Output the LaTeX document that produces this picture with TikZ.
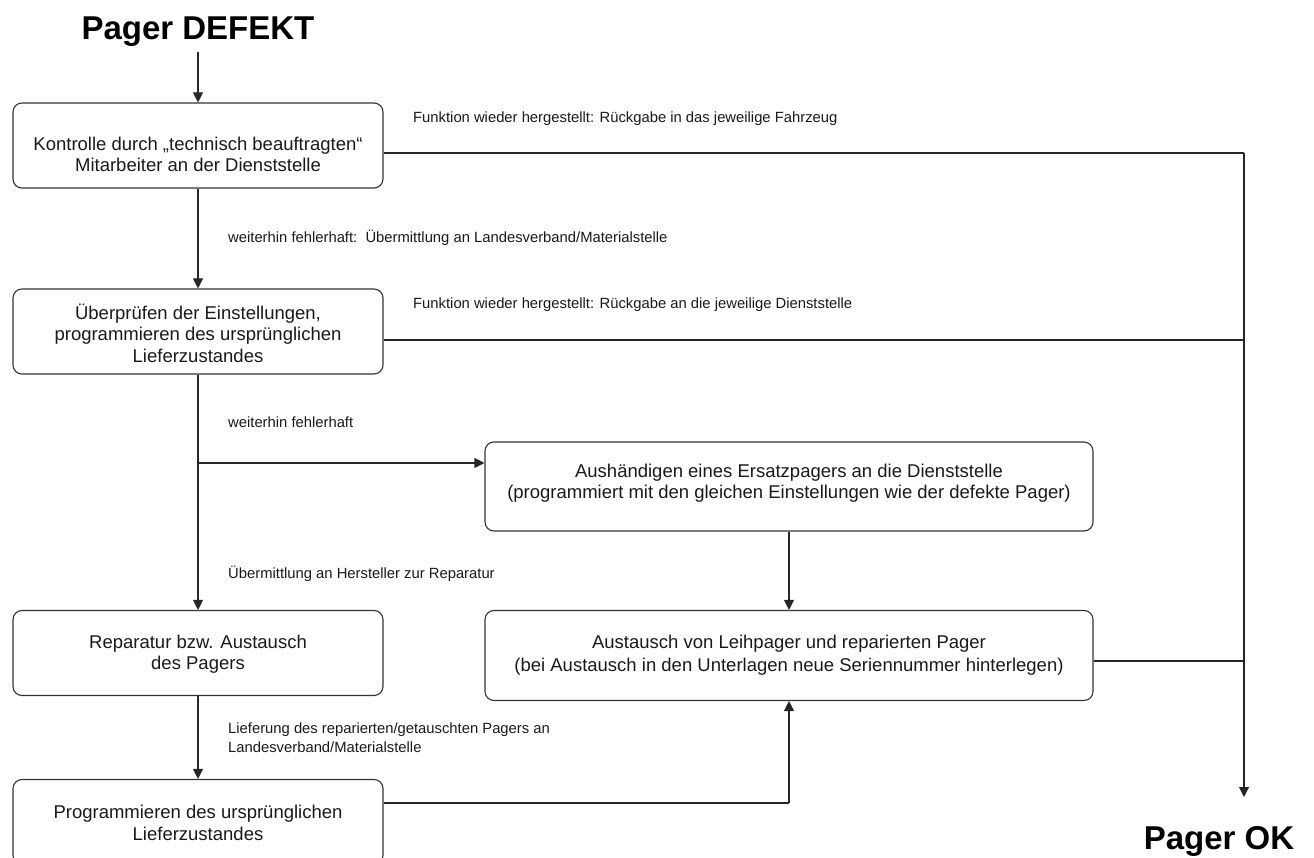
\documentclass[tikz,border=0pt]{standalone}
\usepackage{fontspec}
\setmainfont{Liberation Sans}
\usetikzlibrary{arrows.meta}
\begin{document}
\begin{tikzpicture}[x=1pt,y=-1pt,
  box/.style={draw=black!80, line width=1.1pt, rounded corners=9pt, inner sep=0pt},
  txt/.style={font=\fontsize{18.5}{21.5}\selectfont, align=center, text=black!90, inner sep=0pt},
  lbl/.style={font=\fontsize{14.8}{19}\selectfont, align=left, anchor=west, inner sep=0pt, text=black!90},
  ttl/.style={font=\bfseries\fontsize{33}{36}\selectfont, inner sep=0pt, anchor=base},
  conn/.style={draw=black!85, line width=1.1pt},
  arr/.style={conn, -{Triangle[length=10pt,width=10pt]}}]
\useasboundingbox (0,0) rectangle (1314,858);

\node[ttl] (start) at (198,40) {Pager DEFEKT};
\node[ttl] (ok) at (1219,849) {Pager OK};

\node[box, minimum width=370pt, minimum height=85pt] (b1) at (198,145.5) {};
\node[txt] (t1) at (198,154.5) {Kontrolle durch „technisch beauftragten“\\Mitarbeiter an der Dienststelle};

\node[box, minimum width=370pt, minimum height=85pt] (b2) at (198,331.5) {};
\node[txt] (t2) at (198,333) {Überprüfen der Einstellungen,\\programmieren des ursprünglichen\\Lieferzustandes};

\node[box, minimum width=370pt, minimum height=85pt] (b3) at (198,653) {};
\node[txt] (t3) at (198,654) {Reparatur bzw. Austausch\\des Pagers};

\begin{scope}
\clip (0,0) rectangle (1314,858);
\node[box, minimum width=370pt, minimum height=85pt] (b6) at (198,822) {};
\end{scope}
\node[txt] (t6) at (198,823) {Programmieren des ursprünglichen\\Lieferzustandes};

\node[box, minimum width=608pt, minimum height=89pt] (b4) at (789,486.5) {};
\node[txt] (t4) at (789,483) {Aushändigen eines Ersatzpagers an die Dienststelle\\(programmiert mit den gleichen Einstellungen wie der defekte Pager)};

\node[box, minimum width=608pt, minimum height=90pt] (b5) at (789,655.5) {};
\node[txt, font=\fontsize{18.5}{23}\selectfont] (t5) at (789,655) {Austausch von Leihpager und reparierten Pager\\(bei Austausch in den Unterlagen neue Seriennummer hinterlegen)};

\node[lbl] (l1) at (413,119) {Funktion wieder hergestellt: Rückgabe in das jeweilige Fahrzeug};
\node[lbl] (l2) at (228,238) {weiterhin fehlerhaft:\ \ Übermittlung an Landesverband/Materialstelle};
\node[lbl] (l3) at (413,305) {Funktion wieder hergestellt: Rückgabe an die jeweilige Dienststelle};
\node[lbl] (l4) at (228,422) {weiterhin fehlerhaft};
\node[lbl] (l5) at (228,574) {Übermittlung an Hersteller zur Reparatur};
\node[lbl] (l6) at (228,737.5) {Lieferung des reparierten/getauschten Pagers an\\Landesverband/Materialstelle};

\coordinate (s0) at (198,52);
\coordinate (r1) at (1244,153);
\coordinate (r2) at (1244,340);
\coordinate (r5) at (1244,661);
\coordinate (okend) at (1244,797);
\coordinate (br) at (198,463);
\coordinate (r6) at (789,803);

\draw[arr] (s0) -- (b1.north);
\draw[conn] (b1.east |- r1) -- (r1);
\draw[arr] (r1) -- (okend);
\draw[conn] (b2.east |- r2) -- (r2);
\draw[conn] (b5.east |- r5) -- (r5);
\draw[arr] (b1.south) -- (b2.north);
\draw[arr] (b2.south) -- (b3.north);
\draw[arr] (br) -- (b4.west |- br);
\draw[arr] (b4.south) -- (b5.north);
\draw[arr] (b3.south) -- (b6.north);
\draw[conn] (b6.east |- r6) -- (r6);
\draw[arr] (r6) -- (b5.south);
\end{tikzpicture}
\end{document}
